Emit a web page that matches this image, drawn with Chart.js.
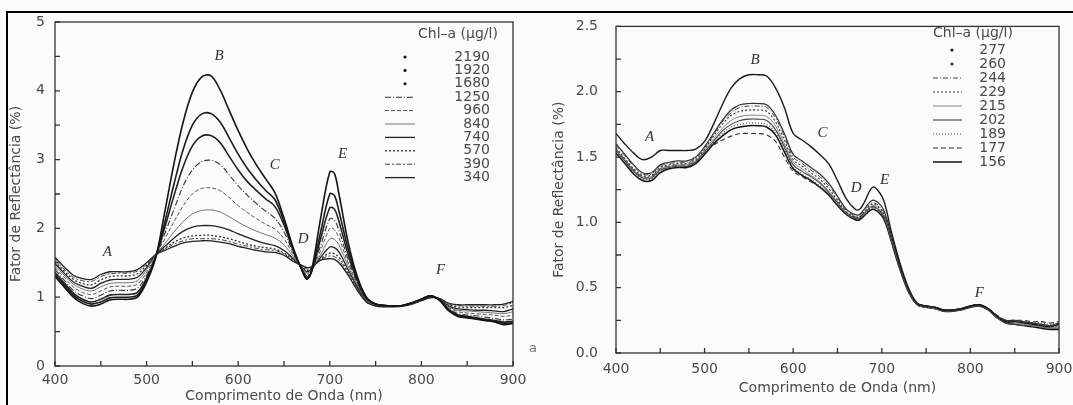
<!DOCTYPE html>
<html>
<head>
<meta charset="utf-8">
<script src="https://cdn.jsdelivr.net/npm/chart.js@4.4.0/dist/chart.umd.min.js"></script>
<style>
  html, body { margin: 0; padding: 0; width: 1073px; height: 405px; overflow: hidden; background: #fbfbfb; }
  canvas { position: absolute; top: 0; }
  #left { left: 0; }
  #right { left: 540px; }
  .rule { position: absolute; background: #000; z-index: 5; }
</style>
</head>
<body>
<canvas id="left" width="540" height="405"></canvas>
<canvas id="right" width="560" height="405"></canvas>
<div class="rule" style="left:6px;top:11px;width:1067px;height:2px"></div>
<div class="rule" style="left:6px;top:11px;width:2px;height:394px"></div>
<script>
// wavelengths (nm) shared by every curve
const wavelengths = [400, 410, 420, 430, 440, 450, 460, 470, 480, 490,
  500, 510, 520, 530, 540, 550, 560, 570, 580, 590,
  600, 610, 620, 630, 640, 650, 660, 670, 675, 680, 690, 700, 705,
  710, 720, 730, 740, 750, 760, 770, 780, 790,
  800, 810, 820, 830, 840, 850, 860, 870, 880, 890, 900];

// left panel: Chl-a (ug/l) and reflectance (%)
const leftLabels = ["2190", "1920", "1680", "1250", "960", "840", "740", "570", "390", "340"];
const left2190 = [1.30,1.15,1.00,0.91,0.87,0.90,0.96,0.97,0.97,1.00, 1.22,1.58,2.25,2.95,3.55,3.98,4.20,4.22,4.02,3.72, 3.42,3.15,2.92,2.72,2.52,2.15,1.72,1.38,1.26,1.38,2.15,2.82,2.80, 2.50,1.80,1.30,1.00,0.90,0.88,0.87,0.88,0.92, 0.97,1.02,0.95,0.80,0.72,0.70,0.68,0.66,0.64,0.60,0.62];
const left1920 = [1.33,1.18,1.03,0.94,0.90,0.93,0.99,1.00,1.00,1.03, 1.25,1.58,2.10,2.65,3.15,3.50,3.66,3.67,3.55,3.32, 3.08,2.87,2.70,2.55,2.42,2.10,1.70,1.38,1.27,1.37,1.95,2.50,2.48, 2.25,1.70,1.27,0.99,0.90,0.88,0.87,0.88,0.92, 0.97,1.02,0.96,0.81,0.73,0.71,0.69,0.67,0.65,0.62,0.63];
const left1680 = [1.36,1.21,1.06,0.97,0.93,0.97,1.03,1.04,1.04,1.07, 1.28,1.59,2.02,2.48,2.90,3.20,3.34,3.35,3.25,3.05, 2.85,2.68,2.55,2.43,2.32,2.05,1.68,1.39,1.29,1.37,1.85,2.30,2.28, 2.10,1.62,1.24,0.98,0.90,0.88,0.87,0.88,0.92, 0.97,1.02,0.96,0.82,0.74,0.72,0.70,0.68,0.66,0.64,0.65];
const left1250 = [1.40,1.25,1.10,1.02,0.98,1.03,1.09,1.10,1.10,1.13, 1.32,1.60,1.93,2.28,2.62,2.85,2.97,2.99,2.93,2.78, 2.62,2.48,2.36,2.25,2.15,1.95,1.65,1.40,1.31,1.38,1.75,2.14,2.12, 1.97,1.55,1.22,0.97,0.90,0.88,0.87,0.88,0.92, 0.96,1.01,0.96,0.83,0.76,0.74,0.73,0.71,0.69,0.67,0.68];
const left960 = [1.43,1.29,1.15,1.07,1.04,1.09,1.15,1.16,1.16,1.19, 1.36,1.61,1.85,2.10,2.33,2.50,2.58,2.59,2.55,2.45, 2.33,2.23,2.14,2.06,1.99,1.85,1.62,1.41,1.33,1.39,1.68,2.00,1.98, 1.86,1.50,1.20,0.96,0.89,0.88,0.87,0.88,0.91, 0.96,1.01,0.97,0.85,0.79,0.77,0.76,0.75,0.74,0.72,0.74];
const left840 = [1.46,1.32,1.19,1.12,1.09,1.15,1.20,1.21,1.21,1.24, 1.40,1.62,1.78,1.95,2.10,2.21,2.26,2.27,2.24,2.17, 2.09,2.02,1.96,1.91,1.86,1.76,1.59,1.42,1.35,1.40,1.62,1.85,1.84, 1.76,1.45,1.18,0.95,0.89,0.88,0.87,0.88,0.91, 0.96,1.01,0.97,0.86,0.81,0.80,0.79,0.78,0.77,0.76,0.79];
const left740 = [1.49,1.35,1.22,1.16,1.13,1.20,1.25,1.26,1.26,1.29, 1.43,1.62,1.74,1.86,1.96,2.02,2.04,2.04,2.02,1.98, 1.92,1.87,1.82,1.78,1.75,1.68,1.56,1.43,1.37,1.41,1.58,1.73,1.72, 1.66,1.40,1.15,0.94,0.88,0.87,0.87,0.88,0.91, 0.96,1.00,0.97,0.87,0.83,0.82,0.81,0.81,0.80,0.79,0.83];
const left570 = [1.52,1.38,1.26,1.20,1.18,1.25,1.30,1.31,1.31,1.34, 1.46,1.62,1.71,1.80,1.86,1.89,1.90,1.90,1.88,1.85, 1.81,1.77,1.74,1.72,1.70,1.64,1.54,1.44,1.39,1.42,1.56,1.64,1.63, 1.58,1.36,1.13,0.94,0.88,0.87,0.87,0.88,0.91, 0.95,1.00,0.98,0.89,0.86,0.85,0.85,0.85,0.85,0.85,0.88];
const left390 = [1.55,1.41,1.29,1.24,1.23,1.30,1.34,1.35,1.35,1.38, 1.48,1.62,1.70,1.77,1.82,1.85,1.85,1.85,1.84,1.81, 1.77,1.74,1.71,1.69,1.68,1.63,1.53,1.45,1.41,1.43,1.55,1.60,1.59, 1.54,1.34,1.12,0.93,0.88,0.87,0.87,0.88,0.91, 0.95,1.00,0.98,0.90,0.88,0.87,0.87,0.87,0.87,0.88,0.92];
const left340 = [1.58,1.44,1.32,1.27,1.26,1.33,1.37,1.37,1.37,1.40, 1.50,1.62,1.68,1.74,1.79,1.81,1.82,1.82,1.80,1.78, 1.74,1.71,1.68,1.66,1.65,1.61,1.52,1.46,1.43,1.44,1.54,1.56,1.55, 1.50,1.32,1.10,0.93,0.87,0.86,0.86,0.87,0.90, 0.95,0.99,0.98,0.91,0.89,0.89,0.89,0.89,0.89,0.90,0.94];
const leftValues = [left2190, left1920, left1680, left1250, left960, left840, left740, left570, left390, left340];

// right panel
const rightLabels = ["277", "260", "244", "229", "215", "202", "189", "177", "156"];
const right277 = [1.68,1.60,1.53,1.48,1.50,1.55,1.55,1.55,1.55,1.56, 1.62,1.75,1.90,2.03,2.10,2.13,2.13,2.12,2.03,1.88, 1.68,1.63,1.58,1.52,1.45,1.32,1.18,1.10,1.10,1.15,1.27,1.20,1.10, 0.95,0.70,0.50,0.38,0.36,0.35,0.33,0.33,0.34, 0.36,0.37,0.34,0.28,0.24,0.24,0.23,0.22,0.21,0.20,0.22];
const right260 = [1.60,1.52,1.44,1.38,1.38,1.44,1.46,1.47,1.47,1.50, 1.58,1.68,1.78,1.86,1.90,1.91,1.91,1.90,1.82,1.68, 1.52,1.47,1.42,1.37,1.30,1.20,1.10,1.06,1.06,1.10,1.17,1.12,1.04, 0.92,0.68,0.49,0.38,0.36,0.35,0.33,0.33,0.34, 0.36,0.37,0.34,0.28,0.25,0.25,0.24,0.23,0.22,0.21,0.23];
const right244 = [1.59,1.51,1.43,1.37,1.37,1.43,1.45,1.46,1.46,1.49, 1.57,1.67,1.77,1.84,1.88,1.89,1.89,1.88,1.80,1.66, 1.50,1.45,1.40,1.35,1.28,1.19,1.09,1.05,1.05,1.09,1.15,1.10,1.03, 0.91,0.68,0.49,0.38,0.36,0.35,0.33,0.33,0.34, 0.36,0.37,0.34,0.29,0.25,0.25,0.24,0.23,0.22,0.21,0.22];
const right229 = [1.57,1.49,1.41,1.36,1.36,1.42,1.44,1.45,1.45,1.48, 1.56,1.66,1.75,1.82,1.85,1.86,1.86,1.85,1.77,1.63, 1.48,1.43,1.38,1.33,1.26,1.17,1.08,1.04,1.04,1.08,1.14,1.09,1.02, 0.90,0.67,0.48,0.37,0.35,0.34,0.33,0.33,0.34, 0.36,0.37,0.34,0.28,0.24,0.24,0.23,0.22,0.21,0.20,0.21];
const right215 = [1.56,1.48,1.40,1.35,1.35,1.41,1.43,1.44,1.44,1.47, 1.55,1.64,1.72,1.78,1.81,1.82,1.82,1.81,1.74,1.60, 1.46,1.41,1.36,1.31,1.24,1.16,1.07,1.04,1.04,1.07,1.13,1.08,1.01, 0.89,0.67,0.48,0.37,0.35,0.34,0.33,0.33,0.34, 0.36,0.37,0.33,0.27,0.24,0.23,0.22,0.21,0.20,0.19,0.20];
const right202 = [1.55,1.47,1.39,1.34,1.34,1.40,1.42,1.43,1.43,1.46, 1.54,1.62,1.70,1.75,1.78,1.79,1.79,1.78,1.71,1.58, 1.44,1.39,1.35,1.30,1.23,1.15,1.07,1.03,1.03,1.07,1.12,1.07,1.00, 0.88,0.66,0.48,0.37,0.35,0.34,0.32,0.32,0.33, 0.35,0.36,0.33,0.27,0.23,0.22,0.21,0.21,0.20,0.19,0.19];
const right189 = [1.54,1.46,1.38,1.33,1.33,1.39,1.42,1.43,1.43,1.46, 1.53,1.61,1.68,1.73,1.75,1.76,1.76,1.75,1.69,1.56, 1.42,1.37,1.33,1.28,1.22,1.14,1.06,1.03,1.03,1.06,1.11,1.06,0.99, 0.88,0.66,0.47,0.37,0.35,0.34,0.33,0.33,0.34, 0.36,0.37,0.34,0.28,0.25,0.24,0.24,0.23,0.23,0.22,0.23];
const right177 = [1.56,1.48,1.40,1.35,1.35,1.41,1.43,1.44,1.44,1.47, 1.53,1.59,1.63,1.66,1.68,1.68,1.68,1.67,1.62,1.50, 1.39,1.35,1.31,1.27,1.21,1.13,1.07,1.04,1.04,1.07,1.12,1.07,1.00, 0.89,0.67,0.48,0.38,0.36,0.35,0.33,0.33,0.34, 0.36,0.37,0.34,0.29,0.25,0.25,0.25,0.24,0.24,0.23,0.24];
const right156 = [1.53,1.45,1.37,1.32,1.32,1.38,1.41,1.42,1.42,1.45, 1.52,1.60,1.66,1.71,1.73,1.74,1.74,1.73,1.67,1.54, 1.41,1.36,1.32,1.27,1.21,1.13,1.06,1.02,1.02,1.05,1.10,1.05,0.98, 0.87,0.65,0.47,0.37,0.35,0.34,0.32,0.32,0.33, 0.35,0.36,0.33,0.27,0.23,0.22,0.21,0.20,0.19,0.18,0.18];
const rightValues = [right277, right260, right244, right229, right215, right202, right189, right177, right156];

// letters written on the curves (nm, %)
const markLetters = ["A", "B", "C", "D", "E", "F"];
const leftMarkX = [457, 579, 640, 671, 714, 821];
const leftMarkY = [1.65, 4.5, 2.92, 1.85, 3.08, 1.39];
const rightMarkX = [438, 557, 633, 671, 703, 810];
const rightMarkY = [1.65, 2.24, 1.68, 1.26, 1.32, 0.46];

// line looks, one per series
const leftStyle = [
  { color: "#151515", width: 1.6, dash: [], mark: "dot" },
  { color: "#1c1c1c", width: 1.6, dash: [], mark: "dot" },
  { color: "#222", width: 1.6, dash: [], mark: "dot" },
  { color: "#333", width: 1.1, dash: [6, 2, 1, 2], mark: "line" },
  { color: "#555", width: 1.0, dash: [4, 2], mark: "line" },
  { color: "#666", width: 0.9, dash: [], mark: "line" },
  { color: "#222", width: 1.3, dash: [], mark: "line" },
  { color: "#333", width: 1.3, dash: [2, 2], mark: "line" },
  { color: "#444", width: 1.0, dash: [5, 2, 2, 2], mark: "line" },
  { color: "#222", width: 1.3, dash: [], mark: "line" },
];
const rightStyle = [
  { color: "#1a1a1a", width: 1.4, dash: [], mark: "dot" },
  { color: "#333", width: 1.2, dash: [], mark: "dot" },
  { color: "#444", width: 1.0, dash: [5, 2, 1, 2], mark: "line" },
  { color: "#333", width: 1.1, dash: [2, 2], mark: "line" },
  { color: "#777", width: 0.9, dash: [], mark: "line" },
  { color: "#444", width: 1.1, dash: [], mark: "line" },
  { color: "#444", width: 1.1, dash: [1, 2], mark: "line" },
  { color: "#333", width: 1.1, dash: [5, 3], mark: "line" },
  { color: "#111", width: 1.5, dash: [], mark: "line" },
];

const textColor = "#4a4a4a";
const tickFont = { family: "DejaVu Sans", size: 14 };

const chlDecor = {
  id: "chlDecor",
  afterDraw(chart, args, opts) {
    const { ctx, chartArea: a, scales: { x, y } } = chart;
    ctx.save();
    ctx.strokeStyle = "#333";
    ctx.lineWidth = 1.3;
    ctx.strokeRect(a.left, a.top, a.right - a.left, a.bottom - a.top);
    // inward tick marks on the bottom and left edges
    ctx.beginPath();
    x.ticks.forEach((t) => {
      const px = x.getPixelForValue(t.value);
      ctx.moveTo(px, a.bottom);
      ctx.lineTo(px, a.bottom - 5);
    });
    y.ticks.forEach((t) => {
      const py = y.getPixelForValue(t.value);
      ctx.moveTo(a.left, py);
      ctx.lineTo(a.left + 5, py);
    });
    ctx.stroke();

    ctx.fillStyle = "#333";
    ctx.textAlign = "center";
    ctx.textBaseline = "middle";
    ctx.font = 'italic 15px "Liberation Serif"';
    opts.letters.forEach((m, i) => {
      ctx.fillText(m, x.getPixelForValue(opts.markX[i]), y.getPixelForValue(opts.markY[i]));
    });

    // legend block
    ctx.font = '14px "DejaVu Sans"';
    ctx.fillStyle = textColor;
    ctx.textAlign = "left";
    ctx.fillText("Chl–a (µg/l)", opts.headerX, opts.headerY);
    chart.data.datasets.forEach((ds, i) => {
      const ry = opts.firstY + i * opts.step;
      ctx.textAlign = "right";
      ctx.fillStyle = textColor;
      ctx.fillText(ds.label, opts.textRight, ry);
      ctx.save();
      ctx.strokeStyle = ds.borderColor;
      ctx.fillStyle = ds.borderColor;
      ctx.lineWidth = ds.borderWidth;
      ctx.setLineDash(ds.borderDash);
      ctx.beginPath();
      if (opts.samples[i] === "dot") {
        ctx.arc(opts.dotX, ry, 1.6, 0, Math.PI * 2);
        ctx.fill();
      } else {
        ctx.moveTo(opts.lineX0, ry);
        ctx.lineTo(opts.lineX1, ry);
        ctx.stroke();
      }
      ctx.restore();
    });

    if (opts.tag) {
      ctx.font = '13px "DejaVu Sans"';
      ctx.fillStyle = "#777";
      ctx.textAlign = "left";
      ctx.fillText(opts.tag, a.right + 16, a.bottom - 17);
    }
    ctx.restore();
  },
};

function makeDatasets(labels, values, styles) {
  return labels.map((label, i) => ({
    label: label,
    data: wavelengths.map((w, j) => ({ x: w, y: values[i][j] })),
    borderColor: styles[i].color,
    borderWidth: styles[i].width,
    borderDash: styles[i].dash,
    pointRadius: 0,
    tension: 0.35,
    fill: false,
  }));
}

function panel(id, labels, values, styles, cfg) {
  return new Chart(document.getElementById(id), {
    type: "line",
    data: { datasets: makeDatasets(labels, values, styles) },
    options: {
      responsive: false,
      animation: false,
      layout: { padding: cfg.padding },
      plugins: {
        legend: { display: false },
        tooltip: { enabled: false },
        chlDecor: cfg.decor,
      },
      scales: {
        x: {
          type: "linear",
          min: 400,
          max: 900,
          grid: { display: false, drawTicks: false },
          border: { display: false },
          ticks: {
            stepSize: 50,
            autoSkip: false,
            maxRotation: 0,
            padding: cfg.xTickPad,
            color: textColor,
            font: tickFont,
            callback: (v) => (v % 100 === 0 ? String(v) : ""),
          },
          title: {
            display: true,
            text: "Comprimento de Onda (nm)",
            color: textColor,
            font: tickFont,
            padding: { top: 0, bottom: 0 },
          },
          afterFit: (s) => { s.height = cfg.xHeight; },
        },
        y: {
          min: 0,
          max: cfg.yMax,
          grid: { display: false, drawTicks: false },
          border: { display: false },
          ticks: {
            stepSize: cfg.yStep,
            padding: cfg.yTickPad,
            color: textColor,
            font: tickFont,
            callback: cfg.yLabel,
          },
          title: {
            display: true,
            text: "Fator de Reflectância (%)",
            color: textColor,
            font: tickFont,
            padding: { top: cfg.yTitlePad, bottom: 0 },
          },
          afterFit: (s) => { s.width = cfg.yWidth; },
        },
      },
    },
    plugins: [chlDecor],
  });
}

panel("left", leftLabels, leftValues, leftStyle, {
  padding: { left: 0, right: 27, top: 22, bottom: 0 },
  xHeight: 39,
  yWidth: 55,
  xTickPad: 6,
  yTickPad: 10,
  yTitlePad: 8,
  yMax: 5,
  yStep: 0.5,
  yLabel: (v) => (Number.isInteger(v) ? String(v) : ""),
  decor: {
    letters: markLetters, markX: leftMarkX, markY: leftMarkY,
    samples: leftStyle.map((s) => s.mark),
    headerX: 418, headerY: 34, firstY: 57, step: 13.4, textRight: 490,
    lineX0: 385, lineX1: 415, dotX: 405, tag: "a",
  },
});

panel("right", rightLabels, rightValues, rightStyle, {
  padding: { left: 0, right: 41, top: 18, bottom: 8 },
  xHeight: 44,
  yWidth: 76,
  xTickPad: 8,
  yTickPad: 18,
  yTitlePad: 11,
  yMax: 2.5,
  yStep: 0.25,
  yLabel: (v) => (Math.abs(v * 2 - Math.round(v * 2)) < 1e-9 ? v.toFixed(1) : ""),
  decor: {
    letters: markLetters, markX: rightMarkX, markY: rightMarkY,
    samples: rightStyle.map((s) => s.mark),
    headerX: 393, headerY: 33, firstY: 50, step: 14, textRight: 466,
    lineX0: 393, lineX1: 422, dotX: 412, tag: "",
  },
});
</script>
</body>
</html>
